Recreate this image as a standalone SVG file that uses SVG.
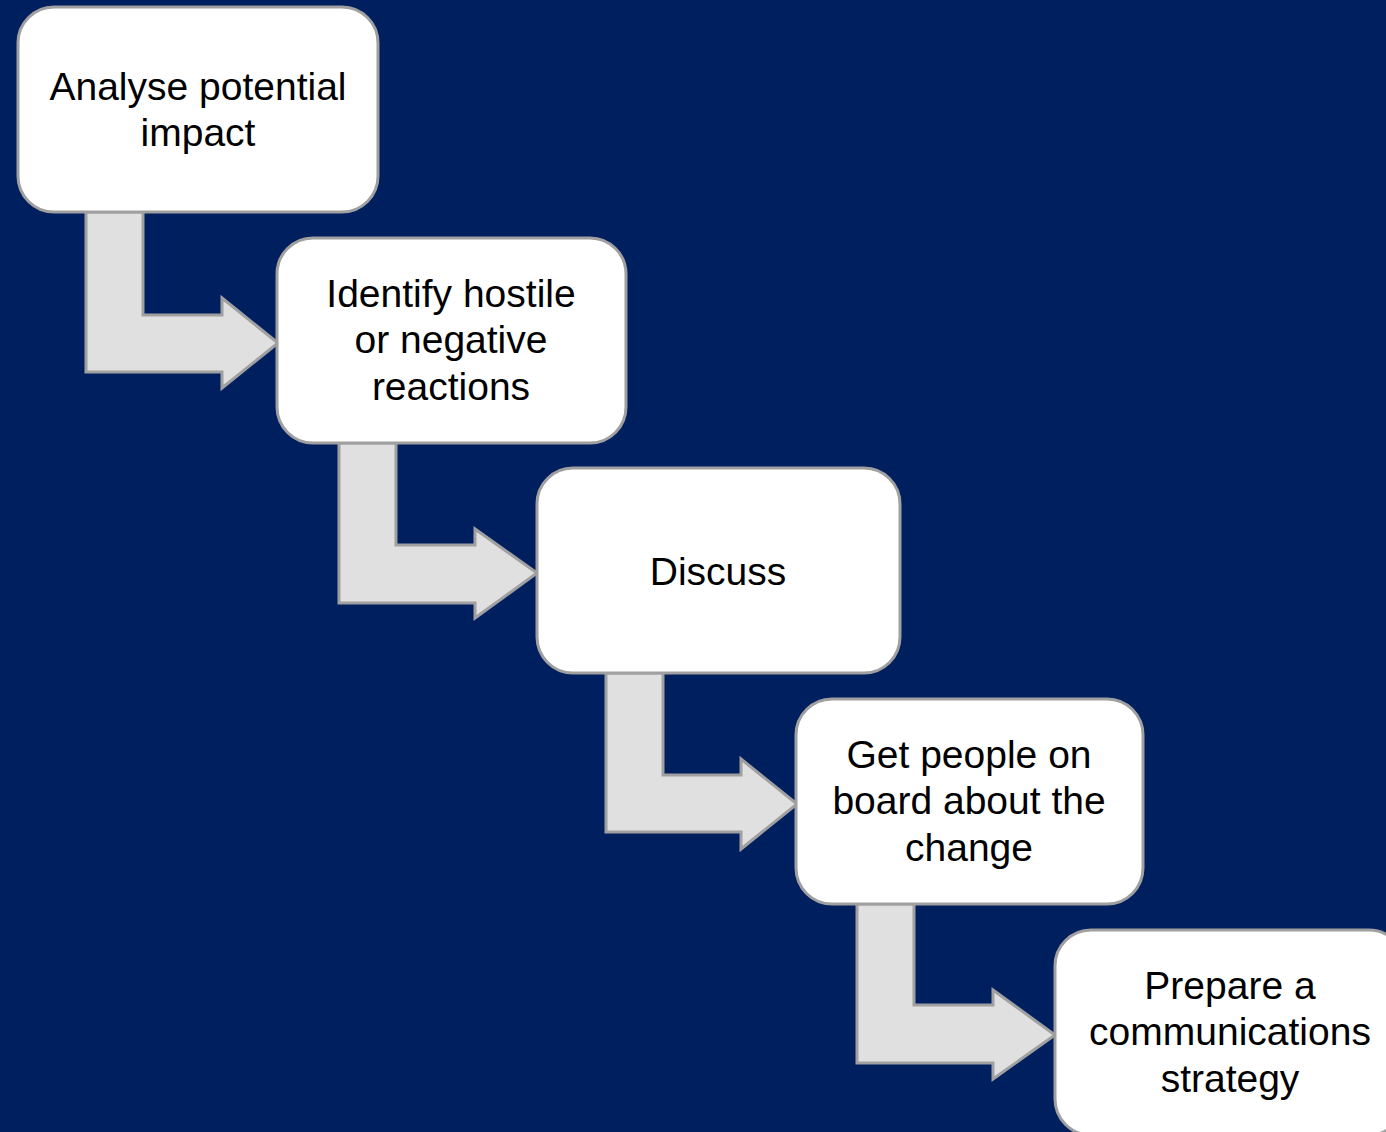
<svg xmlns="http://www.w3.org/2000/svg" width="1386" height="1132" viewBox="0 0 1386 1132">
<style>
.node{fill:#ffffff;stroke:#a0a0a0;stroke-width:3}
.arr{fill:#e0e0e0;stroke:#a0a0a0;stroke-width:3;stroke-linejoin:miter}
.t{font-family:"Liberation Sans",Arial,sans-serif;font-size:39px;fill:#000000;text-anchor:middle}
</style>
<rect x="0" y="0" width="1386" height="1132" fill="#001f5f"/>
<g id="connectors">
<polygon class="arr" points="86,212 143,212 143,315 222,315 222,298 278,343 222,388 222,372 86,372"/>
<polygon class="arr" points="339,443 396,443 396,545 475,545 475,529 537,573 475,618 475,603 339,603"/>
<polygon class="arr" points="606,673 663,673 663,775 741,775 741,759 797,804 741,849 741,832 606,832"/>
<polygon class="arr" points="857,904 914,904 914,1005 993,1005 993,990 1055,1035 993,1079 993,1063 857,1063"/>
</g>
<g id="n1">
<rect class="node" x="18" y="7" width="360" height="205" rx="36"/>
<text class="t" x="198" y="100">Analyse potential</text>
<text class="t" x="198" y="146">impact</text>
</g>
<g id="n2">
<rect class="node" x="277" y="238" width="349" height="205" rx="36"/>
<text class="t" x="451" y="307">Identify hostile</text>
<text class="t" x="451" y="353">or negative</text>
<text class="t" x="451" y="400">reactions</text>
</g>
<g id="n3">
<rect class="node" x="537" y="468" width="363" height="205" rx="36"/>
<text class="t" x="718" y="585">Discuss</text>
</g>
<g id="n4">
<rect class="node" x="796" y="699" width="347" height="205" rx="36"/>
<text class="t" x="969" y="768">Get people on</text>
<text class="t" x="969" y="814">board about the</text>
<text class="t" x="969" y="861">change</text>
</g>
<g id="n5">
<rect class="node" x="1055" y="930" width="350" height="205" rx="36"/>
<text class="t" x="1230" y="999">Prepare a</text>
<text class="t" x="1230" y="1045">communications</text>
<text class="t" x="1230" y="1092">strategy</text>
</g>
</svg>
